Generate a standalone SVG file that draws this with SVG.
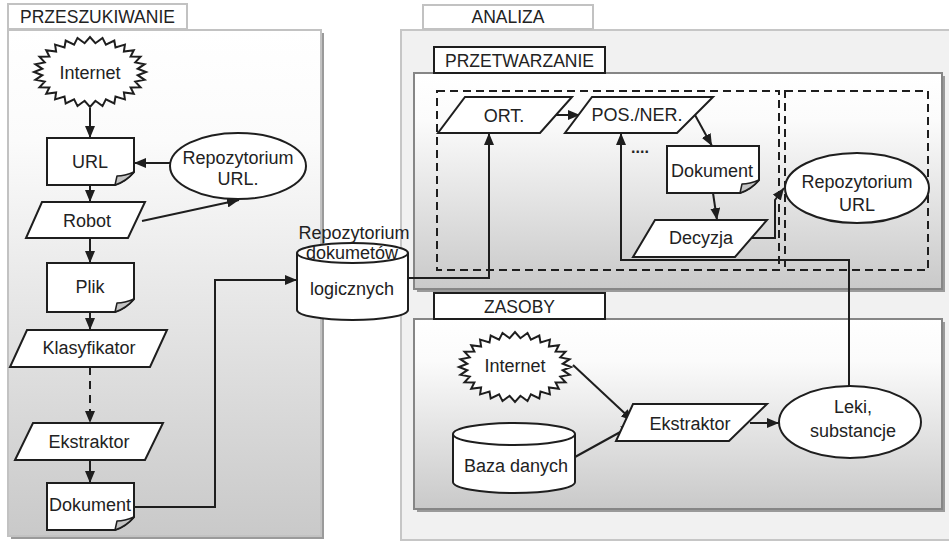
<svg xmlns="http://www.w3.org/2000/svg" xmlns:xlink="http://www.w3.org/1999/xlink" width="949" height="544" viewBox="0 0 949 544">
  <style>
    text { font-family: "Liberation Sans", Arial, sans-serif; fill: #222; text-anchor: middle; }
    .t { font-size: 18px; }
    .lbl { font-size: 17.5px; }
    .node { fill: #fff; stroke: #1e1e1e; stroke-width: 2; }
    .fold { fill: #c4c4c4; stroke: #1e1e1e; stroke-width: 1.5; stroke-linejoin: round; }
    .conn { fill: none; stroke: #1e1e1e; stroke-width: 2; marker-end: url(#arrow); }
    .dash { fill: none; stroke: #1e1e1e; stroke-width: 2; stroke-dasharray: 8 5; }
    .panelLight { fill: url(#panelFill); stroke: #c2c2c2; stroke-width: 2; }
    .panelDark { fill: url(#panelFill); stroke: #868686; stroke-width: 2; }
    .shadow { fill: #9a9a9a; }
    .tabLight { fill: #fff; stroke: #c2c2c2; stroke-width: 2; }
    .tabDark { fill: #fff; stroke: #1e1e1e; stroke-width: 2; }
  </style>
  <defs>
    <linearGradient id="panelFill" x1="0" y1="0" x2="0" y2="1">
      <stop offset="0" stop-color="#ffffff"/>
      <stop offset="0.22" stop-color="#fbfbfb"/>
      <stop offset="1" stop-color="#c9c9c9"/>
    </linearGradient>
    <marker id="arrow" viewBox="0 0 12 10" refX="12" refY="5" markerWidth="12" markerHeight="10" markerUnits="userSpaceOnUse" orient="auto">
      <path d="M0,0 L12,5 L0,10 Z" fill="#1e1e1e"/>
    </marker>
    <!-- zigzag "cloud" outline used for the Internet sources -->
    <polygon id="burst" points="56,0 47.7,3.2 54.6,7.8 45.3,9.6 50.5,15.2 40.6,15.4 43.8,21.8 33.9,20.5 34.9,27.4 25.5,24.6 24.3,31.5 15.9,27.4 12.5,34.1 5.4,28.8 0,35 -5.4,28.8 -12.5,34.1 -15.9,27.4 -24.3,31.5 -25.5,24.6 -34.9,27.4 -33.9,20.5 -43.8,21.8 -40.6,15.4 -50.5,15.2 -45.3,9.6 -54.6,7.8 -47.7,3.2 -56,0 -47.7,-3.2 -54.6,-7.8 -45.3,-9.6 -50.5,-15.2 -40.6,-15.4 -43.8,-21.8 -33.9,-20.5 -34.9,-27.4 -25.5,-24.6 -24.3,-31.5 -15.9,-27.4 -12.5,-34.1 -5.4,-28.8 0,-35 5.4,-28.8 12.5,-34.1 15.9,-27.4 24.3,-31.5 25.5,-24.6 34.9,-27.4 33.9,-20.5 43.8,-21.8 40.6,-15.4 50.5,-15.2 45.3,-9.6 54.6,-7.8 47.7,-3.2"/>
  </defs>

  <rect width="949" height="544" fill="#fff"/>

  <!-- ===== PRZESZUKIWANIE panel ===== -->
  <g id="panel-przeszukiwanie">
    <rect class="shadow" x="11" y="33" width="313" height="506"/>
    <rect class="panelLight" x="8" y="30" width="313" height="506"/>
    <rect class="tabLight" x="8" y="4" width="179" height="25"/>
    <text class="lbl" x="97.5" y="23">PRZESZUKIWANIE</text>
  </g>

  <!-- ===== ANALIZA panel ===== -->
  <g id="panel-analiza">
    <rect x="401" y="30" width="560" height="510" fill="#f1f1f1" stroke="#c6c6c6" stroke-width="2"/>
    <rect class="tabLight" x="423" y="5" width="170" height="24"/>
    <text class="lbl" x="508" y="23">ANALIZA</text>
  </g>

  <g id="panel-przetwarzanie">
    <rect class="shadow" x="417" y="76" width="528" height="216"/>
    <rect class="panelDark" x="414" y="73" width="528" height="216"/>
    <rect class="tabDark" x="434" y="47" width="171" height="26"/>
    <text class="lbl" x="519.5" y="66.5">PRZETWARZANIE</text>
    <rect class="dash" x="437" y="91" width="342" height="179"/>
    <rect class="dash" x="785" y="91" width="143" height="179"/>
  </g>

  <g id="panel-zasoby">
    <rect class="shadow" x="417" y="322" width="528" height="190"/>
    <rect class="panelDark" x="414" y="319" width="528" height="190"/>
    <rect class="tabDark" x="434" y="293" width="171" height="26"/>
    <text class="lbl" x="519.5" y="312.5">ZASOBY</text>
  </g>

  <!-- ===== connectors ===== -->
  <g id="connectors">
    <line class="conn" x1="90" y1="108" x2="90" y2="138"/>
    <line class="conn" x1="171" y1="163" x2="134" y2="163"/>
    <line class="conn" x1="90" y1="185" x2="90" y2="202"/>
    <line class="conn" x1="142" y1="221" x2="239" y2="200"/>
    <line class="conn" x1="90" y1="238" x2="90" y2="263"/>
    <line class="conn" x1="90" y1="312" x2="90" y2="330"/>
    <line class="conn" x1="90" y1="367" x2="90" y2="423" stroke-dasharray="8 6"/>
    <line class="conn" x1="90" y1="460" x2="90" y2="483"/>
    <path class="conn" d="M134,507 H215 V280 H297"/>
    <path class="conn" d="M408,278 H489 V133"/>
    <line class="conn" x1="555" y1="115" x2="580" y2="115"/>
    <line class="conn" x1="695" y1="115" x2="712" y2="146"/>
    <line class="conn" x1="713" y1="193" x2="717" y2="220"/>
    <path class="conn" d="M752,238 H775 V200 L784,188"/>
    <path class="conn" d="M849,387 V260 H621 V133"/>
    <line class="conn" x1="573" y1="365" x2="633" y2="421"/>
    <line class="conn" x1="575" y1="457" x2="633" y2="425"/>
    <line class="conn" x1="750" y1="423" x2="779" y2="423"/>
  </g>

  <!-- ===== crawler nodes ===== -->
  <g id="internet-1">
    <use xlink:href="#burst" href="#burst" x="90" y="72" class="node"/>
    <text class="t" x="90" y="79">Internet</text>
  </g>

  <g id="url">
    <path class="node" d="M47,138 H134 V172 C128,179 121,183 115,185 H47 Z"/>
    <path class="fold" d="M134,172 C127,175 121,176 117,176 L115,185 C121,183 128,179 134,172 Z"/>
    <text class="t" x="90" y="168">URL</text>
  </g>

  <g id="repozytorium-url-1">
    <ellipse class="node" cx="238" cy="166" rx="68" ry="33"/>
    <text class="t" x="238" y="164">Repozytorium</text>
    <text class="t" x="238" y="185">URL.</text>
  </g>

  <g id="robot">
    <polygon class="node" points="42,202 145,202 128,238 26,238"/>
    <text class="t" x="87" y="227">Robot</text>
  </g>

  <g id="plik">
    <path class="node" d="M47,263 H134 V299 C128,306 121,310 115,312 H47 Z"/>
    <path class="fold" d="M134,299 C127,302 121,303 117,303 L115,312 C121,310 128,306 134,299 Z"/>
    <text class="t" x="90" y="293">Plik</text>
  </g>

  <g id="klasyfikator">
    <polygon class="node" points="27,330 167,330 150,367 10,367"/>
    <text class="t" x="89" y="354">Klasyfikator</text>
  </g>

  <g id="ekstraktor-1">
    <polygon class="node" points="33,423 163,423 145,460 15,460"/>
    <text class="t" x="89" y="448">Ekstraktor</text>
  </g>

  <g id="dokument-1">
    <path class="node" d="M47,483 H134 V517 C128,524 121,528 115,530 H47 Z"/>
    <path class="fold" d="M134,517 C127,520 121,521 117,521 L115,530 C121,528 128,524 134,517 Z"/>
    <text class="t" x="90" y="511">Dokument</text>
  </g>

  <g id="repozytorium-dokumentow">
    <path class="node" d="M297,253 V310 A55.5,10 0 0 0 408,310 V253"/>
    <ellipse class="node" cx="352.5" cy="253" rx="55.5" ry="10"/>
    <text class="t" x="354" y="239">Repozytorium</text>
    <text class="t" x="352" y="259">dokumetów</text>
    <text class="t" x="352" y="295">logicznych</text>
  </g>

  <!-- ===== processing nodes ===== -->
  <g id="ort">
    <polygon class="node" points="465,97 572,97 540,133 438,133"/>
    <text class="t" x="504" y="122">ORT.</text>
  </g>

  <g id="pos-ner">
    <polygon class="node" points="592,97 713,97 677,133 565,133"/>
    <text class="t" x="637" y="121">POS./NER.</text>
  </g>

  <g id="ellipsis">
    <text x="640" y="153" style="font-size:16px; font-weight:bold; fill:#222">....</text>
  </g>

  <g id="dokument-2">
    <path class="node" d="M667,146 H759 V180 C753,187 746,191 740,193 H667 Z"/>
    <path class="fold" d="M759,180 C752,183 746,184 742,184 L740,193 C746,191 753,187 759,180 Z"/>
    <text class="t" x="712" y="177">Dokument</text>
  </g>

  <g id="decyzja">
    <polygon class="node" points="655,220 767,220 735,257 633,257"/>
    <text class="t" x="701" y="244">Decyzja</text>
  </g>

  <g id="repozytorium-url-2">
    <ellipse class="node" cx="857" cy="188" rx="72" ry="35"/>
    <text class="t" x="857" y="188">Repozytorium</text>
    <text class="t" x="857" y="211">URL</text>
  </g>

  <!-- ===== resource nodes ===== -->
  <g id="internet-2">
    <use xlink:href="#burst" href="#burst" x="515" y="367" class="node"/>
    <text class="t" x="515" y="372">Internet</text>
  </g>

  <g id="baza-danych">
    <path class="node" d="M453,434 V482 A61,11 0 0 0 575,482 V434"/>
    <ellipse class="node" cx="514" cy="434" rx="61" ry="11"/>
    <text class="t" x="516" y="472">Baza danych</text>
  </g>

  <g id="ekstraktor-2">
    <polygon class="node" points="633,404 767,404 729,441 616,441"/>
    <text class="t" x="690" y="430">Ekstraktor</text>
  </g>

  <g id="leki">
    <ellipse class="node" cx="850" cy="422" rx="71" ry="36"/>
    <text class="t" x="853" y="413">Leki,</text>
    <text class="t" x="853" y="437">substancje</text>
  </g>
</svg>
